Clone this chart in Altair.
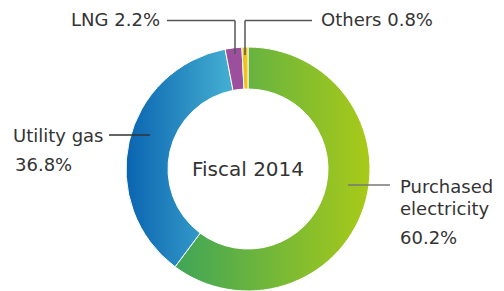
import math
import altair as alt
import pandas as pd

# ---- data ----
categories = ["Purchased electricity", "Utility gas", "LNG", "Others"]
shares = [60.2, 36.8, 2.2, 0.8]
center_title = "Fiscal 2014"

df = pd.DataFrame({"category": categories, "share": shares,
                   "order": list(range(len(categories)))})

W, H = 488, 283
CX, CY = 240, 161
R_OUT, R_IN = 122, 80
FONT = "DejaVu Sans"
TXT = "#333333"
LINE = "#555555"


def lin(c0, c1):
    return {"gradient": "linear", "x1": 0, "y1": 0.5, "x2": 1, "y2": 0.5,
            "stops": [{"offset": 0, "color": c0}, {"offset": 1, "color": c1}]}


fills = {
    "Purchased electricity": lin("#3fa558", "#a9ca18"),
    "Utility gas": lin("#0a64b0", "#45b0d2"),
    "LNG": "#9b4f9d",
    "Others": "#f1c21a",
}

base = alt.Chart(df).transform_window(
    cum="sum(share)", sort=[alt.SortField("order")]
).transform_calculate(start="datum.cum - datum.share")

theta_scale = alt.Scale(domain=[0, 100], range=[0, 2 * math.pi])

layers = []
for cat in categories:
    layers.append(
        base.transform_filter(alt.datum.category == cat)
        .mark_arc(outerRadius=R_OUT, innerRadius=R_IN, fill=fills[cat],
                  stroke="white", strokeWidth=1)
        .encode(theta=alt.Theta("start:Q", scale=theta_scale),
                theta2="cum:Q",
                x=alt.value(CX), y=alt.value(CY))
    )

dummy = alt.Data(values=[{}])


def rule(x1, x2, y1, y2, color=LINE):
    return alt.Chart(dummy).mark_rule(color=color, strokeWidth=1.5).encode(
        x=alt.value(x1), x2=alt.value(x2), y=alt.value(y1), y2=alt.value(y2))


def text(s, x, y, align="left", size=18):
    return alt.Chart(dummy).mark_text(
        align=align, baseline="middle", fontSize=size, font=FONT, color=TXT
    ).encode(x=alt.value(x), y=alt.value(y), text=alt.value(s))


def pct(v):
    return f"{v:.1f}%"


# leader lines
layers += [
    rule(159, 227, 12.5, 12.5), rule(227, 227, 12.5, 46),   # LNG
    rule(237, 304, 12.5, 12.5), rule(237, 237, 12.5, 47),   # Others
    rule(101, 142, 127, 127, color="#333333"),              # Utility gas
    rule(340, 382, 177, 177, color="#777777"),              # Purchased
]

# labels
layers += [
    text(f"{categories[2]} {pct(shares[2])}", 152, 12.5, align="right"),
    text(f"{categories[3]} {pct(shares[3])}", 313, 12.5),
    text(categories[1], 5, 129),
    text(pct(shares[1]), 7, 158),
    text("Purchased", 392, 180),
    text("electricity", 392, 202),
    text(pct(shares[0]), 392, 231),
    text(center_title, CX, CY + 1, align="center", size=20),
]

chart = alt.layer(*layers).properties(
    width=W, height=H, padding=0,
    autosize=alt.AutoSizeParams(type="fit", contains="padding"),
).configure_view(stroke=None)

chart.save("out.html", embed_options={"renderer": "svg", "actions": False})
